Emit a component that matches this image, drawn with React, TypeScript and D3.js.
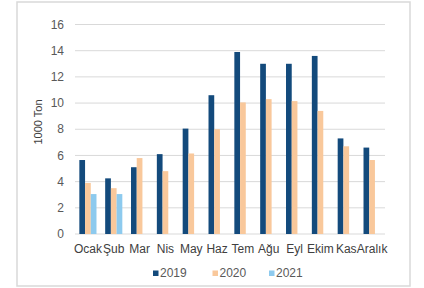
import React, { useEffect, useRef } from 'react';
import * as d3 from 'd3';

const months = ['Ocak', 'Şub', 'Mar', 'Nis', 'May', 'Haz', 'Tem', 'Ağu', 'Eyl', 'Ekim', 'Kas', 'Aralık'];
const years = ['2019', '2020', '2021'];
const v2019 = [5.65, 4.25, 5.1, 6.1, 8.05, 10.6, 13.9, 13.0, 13.0, 13.6, 7.3, 6.6];
const v2020 = [3.9, 3.5, 5.8, 4.8, 6.15, 8.0, 10.05, 10.3, 10.15, 9.4, 6.7, 5.65];
const v2021 = [3.05, 3.05, null, null, null, null, null, null, null, null, null, null];
const yTicks = [0, 2, 4, 6, 8, 10, 12, 14, 16];
const colors = ['#134a7c', '#f9c89b', '#8dcaee'];

export default function App() {
  const ref = useRef<SVGSVGElement>(null);

  useEffect(() => {
    const svg = d3.select(ref.current);
    svg.selectAll('*').remove();
    const W = 424, H = 288;
    const m = { t: 24.5, r: 39, b: 54, l: 75 };
    const font = '"Liberation Sans", Arial, sans-serif';

    // chart frame
    svg.append('rect').attr('x', 17).attr('y', 2).attr('width', 393).attr('height', 284)
      .attr('fill', '#fff').attr('stroke', '#d9d9d9').attr('stroke-width', 1.5);

    const series = [v2019, v2020, v2021];
    const x = d3.scaleBand().domain(months).range([m.l, W - m.r]);
    const inner = d3.scaleBand().domain(years).range([0, x.bandwidth()]).paddingInner(0).paddingOuter(0.76);
    const y = d3.scaleLinear().domain([0, 16]).range([H - m.b, m.t]);

    const g = svg.append('g');
    g.selectAll('line.grid').data(yTicks).enter().append('line')
      .attr('x1', m.l).attr('x2', W - m.r)
      .attr('y1', d => y(d)).attr('y2', d => y(d))
      .attr('stroke', '#d9d9d9').attr('stroke-width', 1);

    g.selectAll('text.yt').data(yTicks).enter().append('text')
      .attr('x', 64).attr('y', d => y(d)).attr('dy', '0.35em')
      .attr('text-anchor', 'end').attr('font-family', font).attr('font-size', 12)
      .attr('fill', '#595959').text(d => d);

    series.forEach((vals, si) => {
      g.append('g').selectAll('rect').data(vals.map((v, i) => ({ v, m: months[i] })).filter(d => d.v != null))
        .enter().append('rect')
        .attr('x', d => (x(d.m) as number) + (inner(years[si]) as number))
        .attr('width', inner.bandwidth())
        .attr('y', d => y(d.v as number))
        .attr('height', d => y(0) - y(d.v as number))
        .attr('fill', colors[si]);
    });

    g.selectAll('text.xt').data(months).enter().append('text')
      .attr('x', d => (x(d) as number) + x.bandwidth() / 2).attr('y', 248.5).attr('dy', '0.35em')
      .attr('text-anchor', 'middle').attr('font-family', font).attr('font-size', 12)
      .attr('fill', '#404040').text(d => d);

    svg.append('text')
      .attr('transform', `translate(38,122) rotate(-90)`).attr('dy', '0.35em')
      .attr('text-anchor', 'middle').attr('font-family', font).attr('font-size', 11)
      .attr('fill', '#404040').text('1000 Ton');

    const legX = [153, 212.5, 269];
    years.forEach((yr, i) => {
      svg.append('rect').attr('x', legX[i]).attr('y', 270.5).attr('width', 5.5).attr('height', 5.5).attr('fill', colors[i]);
      svg.append('text').attr('x', legX[i] + 7).attr('y', 273).attr('dy', '0.35em')
        .attr('font-family', font).attr('font-size', 12).attr('fill', '#595959').text(yr);
    });
  }, []);

  return (
    <svg ref={ref} width={424} height={288} style={{ position: 'absolute', left: 0, top: 0 }} />
  );
}
